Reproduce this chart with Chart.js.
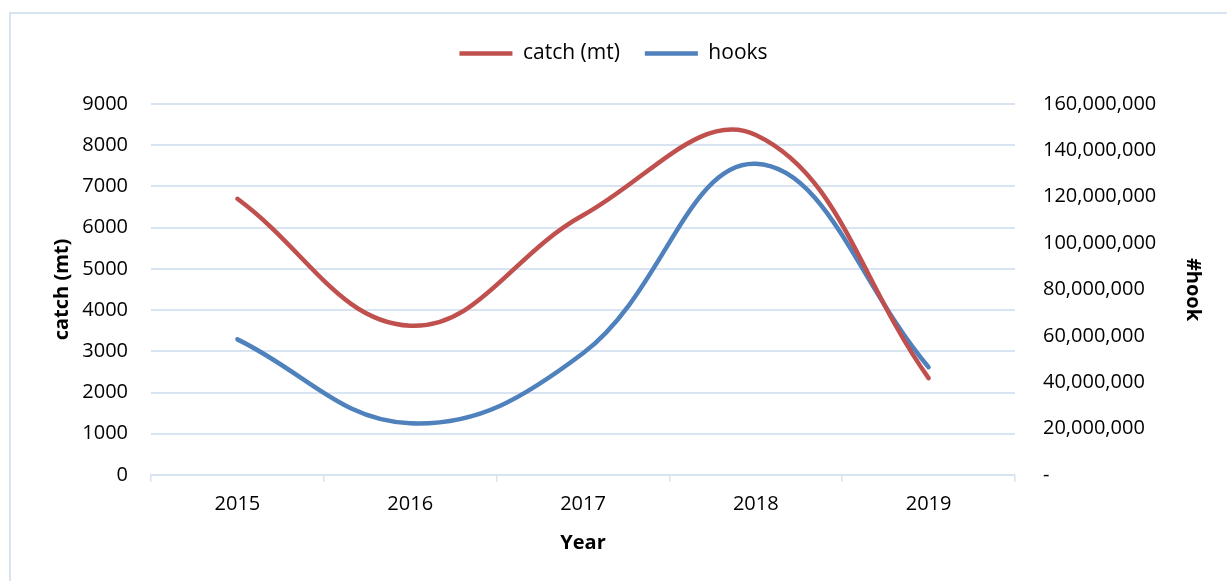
<!DOCTYPE html>
<html>
<head>
<meta charset="utf-8">
<script src="https://cdn.jsdelivr.net/npm/chart.js@4.4.1/dist/chart.umd.min.js"></script>
<style>
  html, body { margin: 0; padding: 0; background: #ffffff; overflow: hidden; }
  #wrap { position: relative; width: 1227px; height: 581px; }
  #frame { position: absolute; left: 9px; top: 12px; width: 1300px; height: 700px;
           border: 2px solid #d9e4f2; box-sizing: border-box; }
  canvas { position: absolute; left: 0; top: 0; }
</style>
</head>
<body>
<div id="wrap">
  <div id="frame"></div>
  <canvas id="c" width="1227" height="581"></canvas>
</div>
<script>
// Annual longline catch and effort
const years = ['2015', '2016', '2017', '2018', '2019'];
const catchMt = [6700, 3620, 6300, 8250, 2350];
const hooks = [58500000, 22300000, 52500000, 134200000, 46500000];

const FONT = "'Open Sans', 'Liberation Sans', sans-serif";
const GRID = '#d9e4f2';
const TXT = '#000000';

// Empty layout box that leaves a gap between the legend and the plot
const legendGap = {
  id: 'legendGap',
  afterInit(chart) {
    Chart.layouts.addBox(chart, {
      position: 'top',
      weight: 0,
      fullSize: true,
      options: {},
      width: 0,
      height: 0,
      isHorizontal() { return true; },
      update(maxW) { this.width = maxW; this.height = 30; },
      draw() {}
    });
  }
};

const ctx = document.getElementById('c').getContext('2d');
new Chart(ctx, {
  type: 'line',
  plugins: [legendGap],
  data: {
    labels: years,
    datasets: [
      {
        label: 'catch (mt)',
        data: catchMt,
        yAxisID: 'yCatch',
        borderColor: '#c0504d',
        backgroundColor: '#c0504d',
        borderWidth: 4.5,
        borderCapStyle: 'round',
        tension: 0.4,
        pointRadius: 0,
        fill: false
      },
      {
        label: 'hooks',
        data: hooks,
        yAxisID: 'yHooks',
        borderColor: '#4f81bd',
        backgroundColor: '#4f81bd',
        borderWidth: 4.5,
        borderCapStyle: 'round',
        tension: 0.4,
        pointRadius: 0,
        fill: false
      }
    ]
  },
  options: {
    responsive: false,
    animation: false,
    layout: { padding: { top: 18, left: 0, right: 0, bottom: 0 } },
    plugins: {
      tooltip: { enabled: false },
      legend: {
        position: 'top',
        labels: {
          usePointStyle: true,
          pointStyle: 'line',
          pointStyleWidth: 53,
          boxHeight: 20,
          padding: 25,
          color: TXT,
          font: { family: FONT, size: 21 }
        }
      }
    },
    scales: {
      x: {
        offset: true,
        grid: {
          offset: true,
          drawOnChartArea: false,
          drawTicks: true,
          tickLength: 7,
          color: GRID,
          lineWidth: 1.5
        },
        border: { display: true, color: GRID, width: 2 },
        ticks: { color: TXT, font: { family: FONT, size: 20 }, padding: 10 },
        title: {
          display: true,
          text: 'Year',
          color: TXT,
          font: { family: FONT, size: 20, weight: 'bold' },
          padding: { top: 0, bottom: 26 }
        },
        afterFit: s => { s.height = 106; }
      },
      yCatch: {
        position: 'left',
        min: 0,
        max: 9000,
        grid: { color: GRID, lineWidth: 2, drawTicks: false },
        border: { display: false },
        ticks: {
          stepSize: 1000,
          color: TXT,
          font: { family: FONT, size: 20 },
          padding: 23,
          callback: v => String(v)
        },
        title: {
          display: true,
          text: 'catch (mt)',
          color: TXT,
          font: { family: FONT, size: 20, weight: 'bold' },
          padding: { top: 50, bottom: 0 }
        },
        afterFit: s => { s.width = 151; }
      },
      yHooks: {
        position: 'right',
        min: 0,
        max: 160000000,
        grid: { drawOnChartArea: false, drawTicks: false },
        border: { display: false },
        ticks: {
          stepSize: 20000000,
          color: TXT,
          font: { family: FONT, size: 20 },
          padding: 28,
          callback: v => v === 0 ? '-' : v.toLocaleString('en-US')
        },
        title: {
          display: true,
          text: '#hook',
          color: TXT,
          font: { family: FONT, size: 20, weight: 'bold' },
          padding: { top: 22, bottom: 0 }
        },
        afterFit: s => { s.width = 1227 - 1015; }
      }
    }
  }
});
</script>
</body>
</html>
